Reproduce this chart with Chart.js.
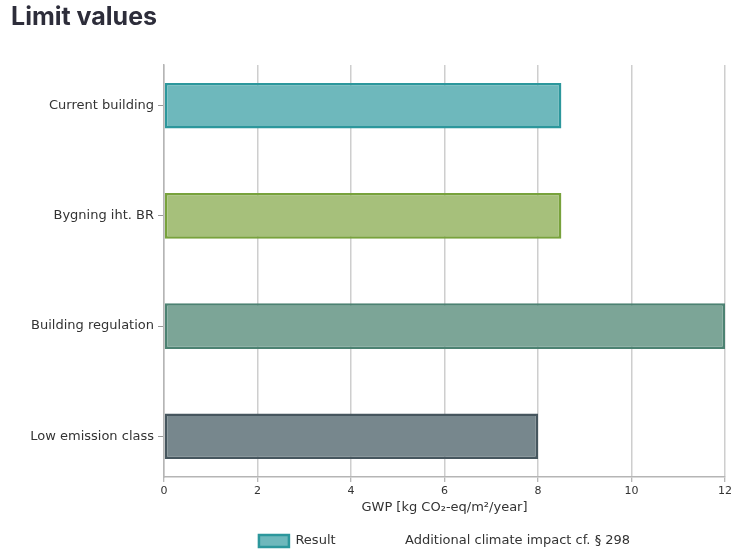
<!DOCTYPE html>
<html>
<head>
<meta charset="utf-8">
<script src="https://cdn.jsdelivr.net/npm/chart.js@4/dist/chart.umd.min.js"></script>
<style>
  html, body { margin: 0; padding: 0; background: #ffffff; }
  canvas { display: block; }
</style>
</head>
<body>
<canvas id="c" width="731" height="552"></canvas>
<script>
const categories = ['Current building', 'Bygning iht. BR', 'Building regulation', 'Low emission class'];
const resultValues = [8.5, 8.5, 12.0, 8.0];
const xTickValues = [0, 2, 4, 6, 8, 10, 12];
const seriesNames = ['Result', 'Additional climate impact cf. \u00a7 298'];
const chartTitle = 'Limit values';
const xAxisTitle = 'GWP [kg CO\u2082-eq/m\u00b2/year]';

const barFills = ['#6eb8bc', '#a6c07b', '#7ca597', '#77878d'];
const barBorders = ['#2c979c', '#78a23c', '#4c8272', '#46565e'];

const data = {
  datasets: [
    {
      label: seriesNames[0],
      data: resultValues.map((v, i) => ({ x: v, y: i })),
      backgroundColor: barFills,
      borderColor: barBorders,
      borderWidth: 2.5,
      borderSkipped: false,
      stack: 'g',
      barPercentage: 0.415,
      categoryPercentage: 1
    },
    {
      label: seriesNames[1],
      data: [],
      backgroundColor: 'rgba(0,0,0,0)',
      borderColor: 'rgba(0,0,0,0)',
      borderWidth: 0,
      stack: 'g'
    }
  ]
};

new Chart(document.getElementById('c'), {
  type: 'bar',
  data: data,
  options: {
    indexAxis: 'y',
    responsive: false,
    animation: false,
    layout: { padding: { left: 11, right: 6, top: 0, bottom: -5.5 } },
    scales: {
      x: {
        type: 'linear',
        position: 'bottom',
        min: 0,
        max: 12,
        z: 1,
        afterBuildTicks: (s) => { s.ticks = xTickValues.map(v => ({ value: v })); },
        afterFit: (s) => { s.height = 24.5; s.paddingRight = 0; s.paddingLeft = 0; },
        grid: {
          color: 'rgba(185,185,185,0.7)',
          lineWidth: 1.5,
          drawTicks: true,
          tickLength: 5,
          tickColor: '#a0a0a0',
          tickWidth: 1
        },
        border: { display: true, color: '#b5b5b5', width: 1.5 },
        ticks: {
          color: '#333333',
          padding: 3,
          font: { family: 'DejaVu Sans', size: 11 },
          maxRotation: 0
        },
        title: {
          display: true,
          text: xAxisTitle,
          color: '#333333',
          font: { family: 'DejaVu Sans', size: 13 },
          padding: { top: 0, bottom: -14.3 }
        }
      },
      y: {
        type: 'linear',
        reverse: true,
        offset: false,
        min: -0.37,
        max: 3.37,
        afterBuildTicks: (s) => { s.ticks = categories.map((c, i) => ({ value: i })); },
        afterFit: (s) => { s.width = 153; s.paddingTop = 0; s.paddingBottom = 0; },
        grid: {
          offset: false,
          drawOnChartArea: false,
          drawTicks: true,
          tickLength: 6,
          tickColor: '#9a9a9a',
          tickWidth: 1
        },
        border: { display: true, color: '#b5b5b5', width: 1.5 },
        ticks: {
          color: '#333333',
          padding: 4,
          font: { family: 'DejaVu Sans', size: 13 },
          callback: (v) => categories[v] !== undefined ? categories[v] : ''
        }
      }
    },
    plugins: {
      title: {
        display: true,
        text: chartTitle,
        align: 'start',
        color: '#2d2d3a',
        font: { family: 'Inter', weight: 'bold', size: 25 },
        padding: { top: 2, bottom: 33 }
      },
      legend: {
        display: true,
        position: 'bottom',
        fullSize: false,
        labels: {
          boxWidth: 30,
          boxHeight: 12,
          padding: 33,
          color: '#333333',
          font: { family: 'DejaVu Sans', size: 13 },
          generateLabels: (chart) => chart.data.datasets.map((ds, i) => ({
            text: ds.label,
            fillStyle: Array.isArray(ds.backgroundColor) ? ds.backgroundColor[0] : ds.backgroundColor,
            strokeStyle: Array.isArray(ds.borderColor) ? ds.borderColor[0] : ds.borderColor,
            lineWidth: ds.borderWidth,
            hidden: false,
            datasetIndex: i,
            fontColor: '#333333'
          }))
        }
      },
      tooltip: { enabled: false }
    }
  }
});
</script>
</body>
</html>
